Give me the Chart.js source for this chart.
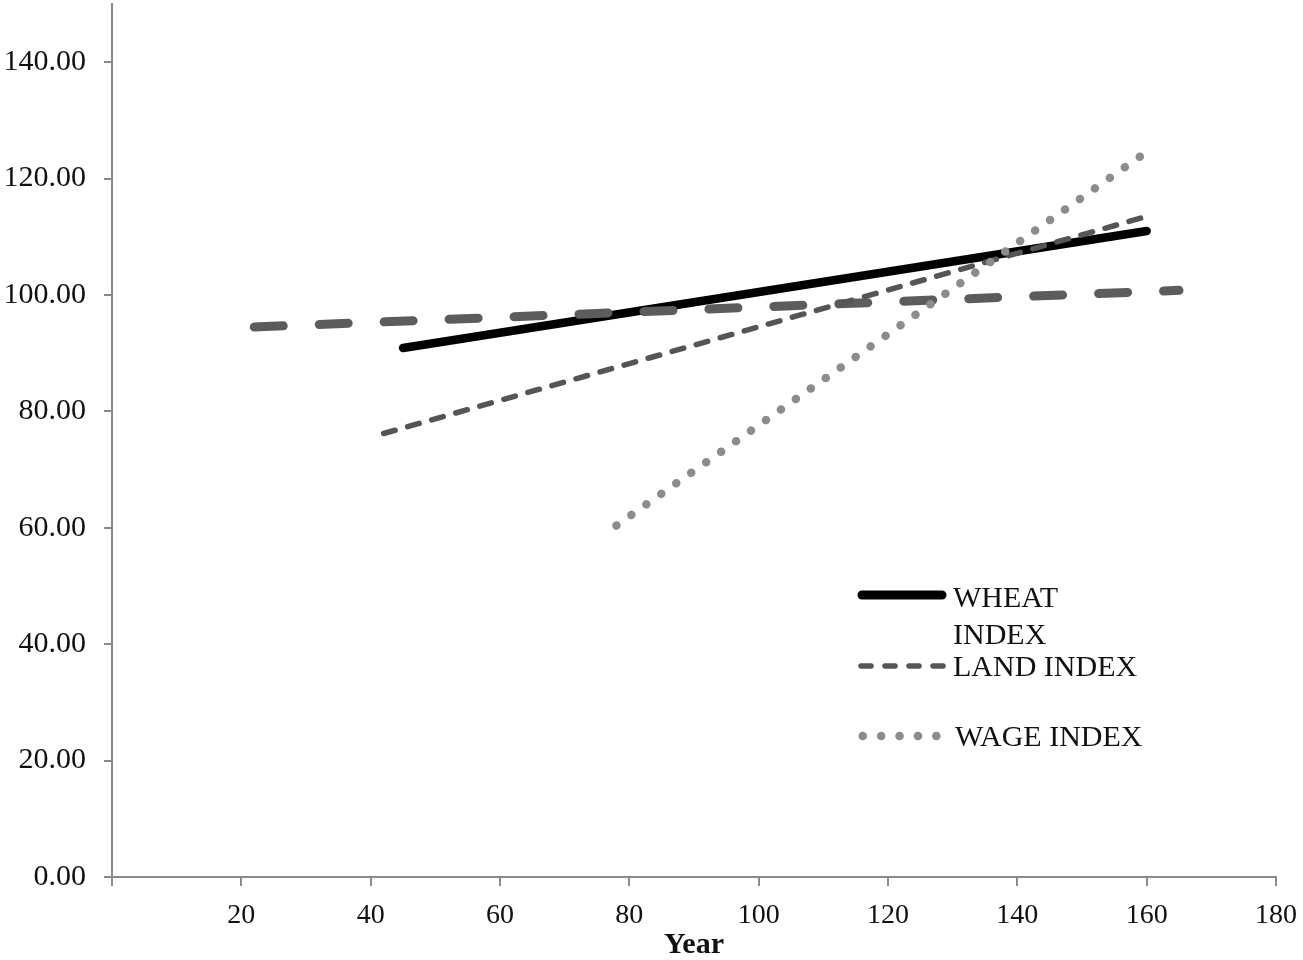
<!DOCTYPE html>
<html>
<head>
<meta charset="utf-8">
<script src="https://cdn.jsdelivr.net/npm/chart.js@4.4.1/dist/chart.umd.min.js"></script>
<style>
  body { margin: 0; background: #fff; }
  #wrap { width: 1303px; height: 960px; }
</style>
</head>
<body>
<div id="wrap"><canvas id="indexChart" width="1303" height="960"></canvas></div>
<script>
// axis ticks
const xTicks = [0, 20, 40, 60, 80, 100, 120, 140, 160, 180];
const yTicks = [0, 20, 40, 60, 80, 100, 120, 140];

// series (start / end of each line)
const wheatYears = [45, 160];
const wheatIndex = [90.9, 111.0];
const landYears = [42, 160];
const landIndex = [76.2, 113.5];
const wageYears = [78, 159];
const wageIndex = [60.4, 123.8];
const trendYears = [22, 165];
const trendIndex = [94.5, 100.8];

const legendLabels = [['WHEAT', 'INDEX'], ['LAND INDEX'], ['WAGE INDEX']];

const axisGray = '#8a8a8a';
const serif = "'Liberation Serif', 'Times New Roman', serif";

function pts(xs, ys) {
    return xs.map(function(x, i) { return { x: x, y: ys[i] }; });
}

// legend drawn inside the plot, lower right
const insideLegend = {
    id: 'insideLegend',
    afterDatasetsDraw: function(chart) {
        const ctx = chart.ctx;
        ctx.save();
        ctx.lineCap = 'round';

        // wheat sample
        ctx.strokeStyle = '#000';
        ctx.lineWidth = 9;
        ctx.setLineDash([]);
        ctx.beginPath();
        ctx.moveTo(862, 595);
        ctx.lineTo(942, 595);
        ctx.stroke();

        // land sample
        ctx.strokeStyle = '#555';
        ctx.lineWidth = 5.5;
        ctx.setLineDash([10, 14]);
        ctx.beginPath();
        ctx.moveTo(861, 666);
        ctx.lineTo(945, 666);
        ctx.stroke();

        // wage sample
        ctx.strokeStyle = '#8c8c8c';
        ctx.lineWidth = 8.5;
        ctx.setLineDash([0.1, 18.3]);
        ctx.beginPath();
        ctx.moveTo(862.7, 736);
        ctx.lineTo(938, 736);
        ctx.stroke();

        ctx.setLineDash([]);
        ctx.fillStyle = '#111';
        ctx.font = '30px ' + serif;
        ctx.textAlign = 'left';
        ctx.textBaseline = 'alphabetic';
        ctx.fillText(legendLabels[0][0], 953, 607);
        ctx.fillText(legendLabels[0][1], 953, 644);
        ctx.fillText(legendLabels[1][0], 953, 676);
        ctx.fillText(legendLabels[2][0], 955, 746);
        ctx.restore();
    }
};

var ctxLine = document.getElementById('indexChart').getContext('2d');
var indexChart = new Chart(ctxLine, {
    type: 'line',
    data: {
        datasets: [{
            label: 'WHEAT INDEX',
            data: pts(wheatYears, wheatIndex),
            borderColor: '#000',
            borderWidth: 8.5,
            borderCapStyle: 'round',
            order: 4
        }, {
            label: 'TREND',
            data: pts(trendYears, trendIndex),
            borderColor: '#5c5c5c',
            borderWidth: 9,
            borderDash: [29, 36],
            borderCapStyle: 'round',
            order: 3
        }, {
            label: 'LAND INDEX',
            data: pts(landYears, landIndex),
            borderColor: '#555',
            borderWidth: 5.5,
            borderDash: [12, 13],
            borderCapStyle: 'round',
            order: 2
        }, {
            label: 'WAGE INDEX',
            data: pts(wageYears, wageIndex),
            borderColor: '#8c8c8c',
            borderWidth: 8.5,
            borderDash: [0.1, 18.19],
            borderCapStyle: 'round',
            order: 1
        }]
    },
    options: {
        responsive: false,
        animation: false,
        layout: { padding: { left: 0, top: 4, right: 27, bottom: 0 } },
        elements: { point: { radius: 0 }, line: { tension: 0, fill: false } },
        plugins: {
            legend: { display: false },
            tooltip: { enabled: false }
        },
        scales: {
            x: {
                type: 'linear',
                min: 0,
                max: 180,
                afterBuildTicks: function(scale) {
                    scale.ticks = xTicks.map(function(v) { return { value: v }; });
                },
                afterFit: function(scale) {
                    scale.height = 83;
                    scale.paddingLeft = 0;
                    scale.paddingRight = 0;
                },
                ticks: {
                    color: '#111',
                    font: { family: serif, size: 28 },
                    padding: 13,
                    maxRotation: 0,
                    callback: function(v) { return v === 0 ? '' : String(v); }
                },
                grid: { drawOnChartArea: false, drawTicks: true, tickLength: 9, color: axisGray, lineWidth: 2 },
                border: { color: axisGray, width: 2 },
                title: {
                    display: true,
                    text: 'Year',
                    color: '#111',
                    font: { family: serif, size: 30, weight: 'bold', lineHeight: 1 },
                    padding: { top: 0, bottom: 0 }
                }
            },
            y: {
                min: 0,
                max: 150,
                afterBuildTicks: function(scale) {
                    scale.ticks = yTicks.map(function(v) { return { value: v }; });
                },
                afterFit: function(scale) {
                    scale.width = 112;
                    scale.paddingTop = 0;
                    scale.paddingBottom = 0;
                },
                ticks: {
                    color: '#111',
                    font: { family: serif, size: 30 },
                    padding: 18,
                    callback: function(v) { return Number(v).toFixed(2); }
                },
                grid: { drawOnChartArea: false, drawTicks: true, tickLength: 8, color: axisGray, lineWidth: 2 },
                border: { color: axisGray, width: 2 }
            }
        }
    },
    plugins: [insideLegend]
});
</script>
</body>
</html>
